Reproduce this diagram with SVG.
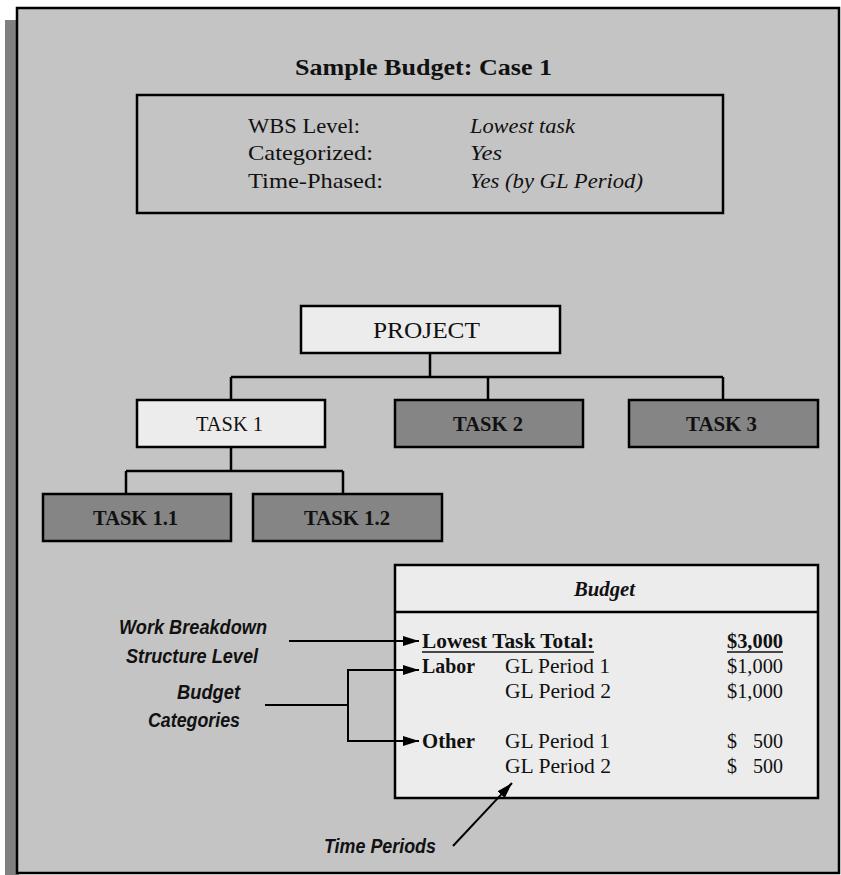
<svg xmlns="http://www.w3.org/2000/svg" width="841" height="875" viewBox="0 0 841 875">
  <defs>
    <style>
      .serif { font-family: "Liberation Serif", "Times New Roman", serif; fill: #111; }
      .b { font-weight: bold; }
      .i { font-style: italic; }
      .lbl { font-family: "Liberation Sans", Arial, sans-serif; font-weight: bold; font-style: italic; fill: #111; }
      .box { stroke: #000; stroke-width: 2.5; }
      .light { fill: #ececec; }
      .dark { fill: #858585; }
      .conn { fill: none; stroke: #000; stroke-width: 2.5; }
      .arrow { fill: none; stroke: #000; stroke-width: 2; }
    </style>
    <marker id="head" viewBox="0 0 16 10" refX="16" refY="5" markerWidth="16" markerHeight="10" markerUnits="userSpaceOnUse" orient="auto">
      <path d="M0,0 L16,5 L0,10 Z" fill="#000"/>
    </marker>
  </defs>

  <!-- page, drop shadow and frame -->
  <rect x="0" y="0" width="841" height="875" fill="#ffffff"/>
  <rect x="5" y="20" width="14" height="855" fill="#808080"/>
  <rect x="17" y="8" width="822" height="865" fill="#c4c4c4" stroke="#000" stroke-width="2.5"/>

  <!-- heading and case summary -->
  <g id="title">
    <text class="serif b" x="295" y="75" font-size="23" textLength="257" lengthAdjust="spacingAndGlyphs">Sample Budget: Case 1</text>
  </g>
  <g id="summary">
    <rect class="box" x="137" y="95" width="586" height="118" fill="none"/>
    <text class="serif" x="248" y="133" font-size="21" textLength="112" lengthAdjust="spacingAndGlyphs">WBS Level:</text>
    <text class="serif" x="248" y="160" font-size="21" textLength="125" lengthAdjust="spacingAndGlyphs">Categorized:</text>
    <text class="serif" x="248" y="188" font-size="21" textLength="135" lengthAdjust="spacingAndGlyphs">Time-Phased:</text>
    <text class="serif i" x="470" y="133" font-size="21" textLength="105" lengthAdjust="spacingAndGlyphs">Lowest task</text>
    <text class="serif i" x="470" y="160" font-size="21" textLength="32" lengthAdjust="spacingAndGlyphs">Yes</text>
    <text class="serif i" x="470" y="188" font-size="21" textLength="173" lengthAdjust="spacingAndGlyphs">Yes (by GL Period)</text>
  </g>

  <!-- tree nodes -->
  <g id="project">
    <rect class="box light" x="301" y="306" width="259" height="47"/>
    <text class="serif" x="373" y="338" font-size="24" textLength="107" lengthAdjust="spacingAndGlyphs">PROJECT</text>
  </g>
  <g id="task1">
    <rect class="box light" x="137" y="400" width="188" height="47"/>
    <text class="serif" x="196" y="431" font-size="20" textLength="67" lengthAdjust="spacingAndGlyphs">TASK 1</text>
  </g>
  <g id="task2">
    <rect class="box dark" x="395" y="400" width="188" height="47"/>
    <text class="serif b" x="453" y="431" font-size="20" textLength="70" lengthAdjust="spacingAndGlyphs">TASK 2</text>
  </g>
  <g id="task3">
    <rect class="box dark" x="629" y="400" width="189" height="47"/>
    <text class="serif b" x="686" y="431" font-size="20" textLength="71" lengthAdjust="spacingAndGlyphs">TASK 3</text>
  </g>
  <g id="task1-1">
    <rect class="box dark" x="43" y="494" width="188" height="47"/>
    <text class="serif b" x="93" y="525" font-size="20" textLength="85" lengthAdjust="spacingAndGlyphs">TASK 1.1</text>
  </g>
  <g id="task1-2">
    <rect class="box dark" x="253" y="494" width="189" height="47"/>
    <text class="serif b" x="304" y="525" font-size="20" textLength="86" lengthAdjust="spacingAndGlyphs">TASK 1.2</text>
  </g>

  <!-- budget table -->
  <g id="budget">
    <rect class="box light" x="395" y="565" width="423" height="233"/>
    <line x1="395" y1="612" x2="818" y2="612" stroke="#000" stroke-width="2.5"/>
    <text class="serif b i" x="574" y="596" font-size="20" textLength="61" lengthAdjust="spacingAndGlyphs">Budget</text>

    <text class="serif b" x="422" y="648" font-size="20" textLength="172" lengthAdjust="spacingAndGlyphs">Lowest Task Total:</text>
    <line x1="422" y1="652" x2="594" y2="652" stroke="#111" stroke-width="1.5"/>
    <text class="serif b" x="727" y="648" font-size="20" textLength="56" lengthAdjust="spacingAndGlyphs">$3,000</text>
    <line x1="727" y1="652" x2="783" y2="652" stroke="#111" stroke-width="1.5"/>

    <text class="serif b" x="422" y="673" font-size="20" textLength="53" lengthAdjust="spacingAndGlyphs">Labor</text>
    <text class="serif" x="505" y="673" font-size="20" textLength="105" lengthAdjust="spacingAndGlyphs">GL Period 1</text>
    <text class="serif" x="727" y="673" font-size="20" textLength="56" lengthAdjust="spacingAndGlyphs">$1,000</text>
    <text class="serif" x="505" y="698" font-size="20" textLength="106" lengthAdjust="spacingAndGlyphs">GL Period 2</text>
    <text class="serif" x="727" y="698" font-size="20" textLength="56" lengthAdjust="spacingAndGlyphs">$1,000</text>

    <text class="serif b" x="422" y="748" font-size="20" textLength="53" lengthAdjust="spacingAndGlyphs">Other</text>
    <text class="serif" x="505" y="748" font-size="20" textLength="105" lengthAdjust="spacingAndGlyphs">GL Period 1</text>
    <text class="serif" x="727" y="748" font-size="20">$</text>
    <text class="serif" x="753" y="748" font-size="20" textLength="30" lengthAdjust="spacingAndGlyphs">500</text>
    <text class="serif" x="505" y="773" font-size="20" textLength="106" lengthAdjust="spacingAndGlyphs">GL Period 2</text>
    <text class="serif" x="727" y="773" font-size="20">$</text>
    <text class="serif" x="753" y="773" font-size="20" textLength="30" lengthAdjust="spacingAndGlyphs">500</text>
  </g>

  <!-- callout labels -->
  <g id="wbs-label">
    <text class="lbl" x="119" y="634" font-size="21" textLength="148" lengthAdjust="spacingAndGlyphs">Work Breakdown</text>
    <text class="lbl" x="126" y="663" font-size="21" textLength="132" lengthAdjust="spacingAndGlyphs">Structure Level</text>
  </g>
  <g id="categories-label">
    <text class="lbl" x="177" y="699" font-size="21" textLength="63" lengthAdjust="spacingAndGlyphs">Budget</text>
    <text class="lbl" x="148" y="727" font-size="21" textLength="92" lengthAdjust="spacingAndGlyphs">Categories</text>
  </g>
  <g id="periods-label">
    <text class="lbl" x="324" y="853" font-size="21" textLength="112" lengthAdjust="spacingAndGlyphs">Time Periods</text>
  </g>

  <!-- tree connectors and callout arrows, drawn on top -->
  <g id="connectors">
    <path class="conn" d="M430,353 V377 M231,377 H723 M231,377 V400 M488,377 V400 M723,377 V400"/>
    <path class="conn" d="M231,447 V471 M126,471 H343 M126,471 V494 M343,471 V494"/>
    <path class="arrow" d="M289,641 H419" marker-end="url(#head)"/>
    <path class="arrow" d="M265,705 H348 M348,670 V741"/>
    <path class="arrow" d="M347,670 H419" marker-end="url(#head)"/>
    <path class="arrow" d="M347,741 H419" marker-end="url(#head)"/>
    <path class="arrow" d="M453,846 L512,783" marker-end="url(#head)"/>
  </g>
</svg>
